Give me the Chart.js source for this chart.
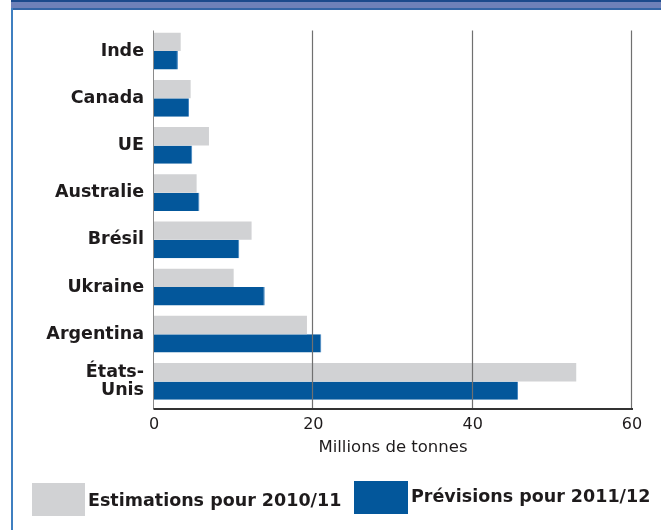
<!DOCTYPE html>
<html>
<head>
<meta charset="utf-8">
<script src="https://cdn.jsdelivr.net/npm/chart.js@4/dist/chart.umd.min.js"></script>
<style>
  html, body { margin: 0; padding: 0; background: #fff; }
  body { width: 661px; height: 530px; position: relative; overflow: hidden; }
  .band { position: absolute; left: 11px; right: 0; top: 0; height: 2px; background: #1c4a8c; }
  .band2 { position: absolute; left: 11px; right: 0; top: 2px; height: 6px; background: #6f81b9; }
  .band3 { position: absolute; left: 11px; right: 0; top: 8px; height: 2px; background: #3465a6; }
  .side { position: absolute; left: 11px; top: 8px; bottom: 0; width: 2px; background: #3f7fc0; }
  .wrap { position: absolute; left: 20px; top: 0; width: 641px; height: 530px; }
</style>
</head>
<body>
<div class="band"></div>
<div class="band2"></div>
<div class="band3"></div>
<div class="side"></div>
<div class="wrap"><canvas id="chart"></canvas></div>
<script>
const countries = ["Inde", "Canada", "UE", "Australie", "Brésil", "Ukraine", "Argentina", ["États-", "Unis"]];
const estimations = [3.35, 4.6, 6.9, 5.35, 12.25, 10.0, 19.2, 53.0];
const previsions = [3.0, 4.4, 4.8, 5.7, 10.7, 13.9, 21.0, 45.7];
const xTicks = [0, 20, 40, 60];

const FONT = "'DejaVu Sans', sans-serif";
const INK = "#1e1b1c";

// gridlines sit on top of the bars, plus the axis lines
const overlay = {
  id: "overlay",
  afterDatasetsDraw(chart) {
    const { ctx, chartArea, scales } = chart;
    const top = chartArea.top + 3, bottom = chartArea.bottom + 4;
    ctx.save();
    ctx.strokeStyle = "#707070";
    ctx.lineWidth = 1.2;
    [20, 40, 60].forEach(v => {
      const x = Math.round(scales.x.getPixelForValue(v)) - 0.5;
      ctx.beginPath();
      ctx.moveTo(x, top);
      ctx.lineTo(x, bottom);
      ctx.stroke();
    });
    ctx.strokeStyle = "#8a8a8a";
    ctx.lineWidth = 1;
    const x0 = Math.round(scales.x.getPixelForValue(0)) - 0.5;
    ctx.beginPath();
    ctx.moveTo(x0, top);
    ctx.lineTo(x0, bottom);
    ctx.stroke();
    ctx.strokeStyle = "#333";
    ctx.lineWidth = 2;
    ctx.beginPath();
    ctx.moveTo(x0, bottom);
    ctx.lineTo(scales.x.getPixelForValue(60) + 1, bottom);
    ctx.stroke();
    ctx.restore();
  }
};

// legend drawn as two big swatches under the axis title
const boxLegend = {
  id: "boxLegend",
  afterDraw(chart) {
    const { ctx } = chart;
    const spots = [
      { x: 12, y: 483, w: 53, h: 33, tx: 68, ty: 501 },
      { x: 334, y: 481, w: 54, h: 33, tx: 391, ty: 497 }
    ];
    ctx.save();
    ctx.font = "bold 17.5px " + FONT;
    ctx.textBaseline = "middle";
    chart.data.datasets.forEach((ds, i) => {
      const s = spots[i];
      ctx.fillStyle = ds.backgroundColor;
      ctx.fillRect(s.x, s.y, s.w, s.h);
      ctx.fillStyle = INK;
      ctx.fillText(ds.label, s.tx, s.ty);
    });
    ctx.restore();
  }
};

new Chart(document.getElementById("chart"), {
  type: "bar",
  data: {
    labels: countries,
    datasets: [
      {
        label: "Estimations pour 2010/11",
        data: estimations,
        backgroundColor: "#d1d2d4",
        barPercentage: 1,
        categoryPercentage: 0.78
      },
      {
        label: "Prévisions pour 2011/12",
        data: previsions,
        backgroundColor: "#03579b",
        borderColor: "#3f82bf",
        borderWidth: { right: 1, top: 0, bottom: 0, left: 0 },
        barPercentage: 1,
        categoryPercentage: 0.78
      }
    ]
  },
  options: {
    indexAxis: "y",
    responsive: true,
    maintainAspectRatio: false,
    animation: false,
    layout: { padding: { top: 25, right: 29, bottom: 70, left: 0 } },
    plugins: {
      legend: { display: false },
      tooltip: { enabled: false }
    },
    scales: {
      x: {
        min: 0,
        max: 60,
        afterBuildTicks: s => { s.ticks = xTicks.map(v => ({ value: v })); },
        afterFit: s => { s.height = 55; },
        grid: { display: false, drawTicks: false },
        border: { display: false },
        ticks: {
          padding: 10,
          color: INK,
          font: { family: FONT, size: 16 }
        },
        title: {
          display: true,
          text: "Millions de tonnes",
          color: INK,
          font: { family: FONT, size: 16.5 },
          padding: { top: 0, bottom: 2 }
        }
      },
      y: {
        afterFit: s => { s.width = 134; },
        grid: { display: false, drawTicks: false },
        border: { display: false },
        ticks: {
          padding: 10,
          color: INK,
          font: { family: FONT, size: 17.5, weight: "bold", lineHeight: 1 }
        }
      }
    }
  },
  plugins: [overlay, boxLegend]
});
</script>
</body>
</html>
